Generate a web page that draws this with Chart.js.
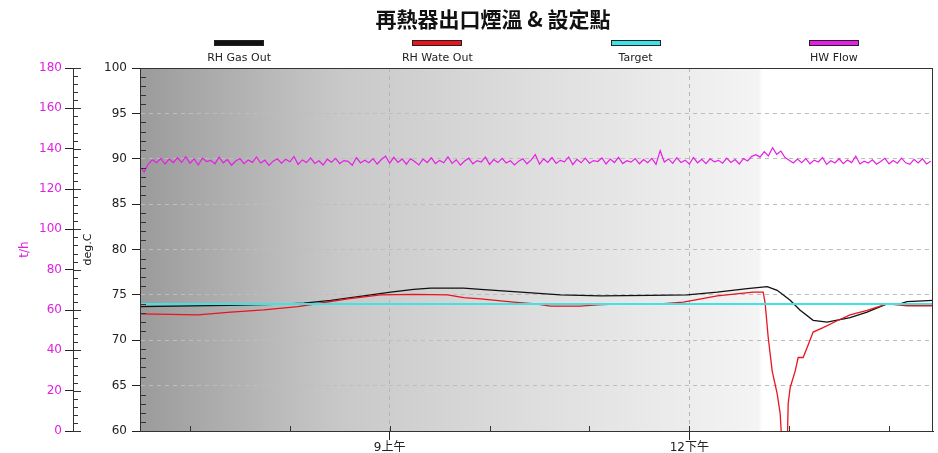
<!DOCTYPE html>
<html>
<head>
<meta charset="utf-8">
<script src="https://cdn.jsdelivr.net/npm/chart.js@4"></script>
<style>
  body { margin: 0; background: #fff; }
  #wrap { position: relative; width: 938px; height: 453px; }
  #title { position: absolute; left: 0; top: 3px; width: 986px; text-align: center; font: bold 21px "Noto Sans CJK TC"; color: #111; }
  #legend { position: absolute; left: 140px; top: 40px; width: 793px; display: flex; }
  .item { flex: 1; text-align: center; }
  .bar { width: 48px; height: 4px; border: 1px solid #222; margin: 0 auto 5px; }
  .lbl { font: 11px "DejaVu Sans"; color: #222; line-height: 13px; }
  canvas { position: absolute; left: 0; top: 0; }
</style>
</head>
<body>
<div id="wrap">
  <canvas id="rh-chart" width="938" height="453"></canvas>
  <div id="title">再熱器出口煙溫 &amp; 設定點</div>
  <div id="legend"></div>
</div>
<script>
// time in hours of the day
var hourTicks = [7, 8, 9, 10, 11, 12, 13, 14];
var labelHours = [9, 12];
var labelTexts = ['9上午', '12下午'];

var gasTimes = [6.5, 7.38, 7.84, 8.14, 8.41, 8.74, 9.01, 9.24, 9.41, 9.74, 9.91, 10.24, 10.71, 11.11, 11.61, 11.98,
  12.28, 12.58, 12.78, 12.88, 13.01, 13.11, 13.24, 13.38, 13.61, 13.78, 13.98, 14.11, 14.18, 14.44];
var gasOut = [73.7, 73.85, 73.95, 74.1, 74.4, 74.9, 75.3, 75.6, 75.75, 75.75, 75.6, 75.35, 75.0, 74.9, 74.95, 75.0,
  75.3, 75.7, 75.9, 75.5, 74.4, 73.3, 72.2, 72.0, 72.5, 73.1, 74.0, 74.0, 74.25, 74.4];

var wateTimes = [6.5, 7.08, 7.41, 7.74, 8.08, 8.28, 8.58, 8.91, 9.24, 9.58, 9.74, 9.91, 10.24, 10.46, 10.61, 10.91,
  11.08, 11.31, 11.71, 11.94, 12.28, 12.64, 12.74, 12.76, 12.79, 12.83, 12.88, 12.91, 12.93, 12.98, 12.99, 13.01,
  13.06, 13.09, 13.14, 13.18, 13.24, 13.34, 13.48, 13.61, 13.78, 13.98, 14.18, 14.44];
var wateOut = [72.9, 72.8, 73.1, 73.35, 73.7, 74.05, 74.55, 75.0, 75.05, 75.0, 74.7, 74.55, 74.2, 74.0, 73.75, 73.75,
  73.9, 74.0, 74.0, 74.2, 74.9, 75.3, 75.3, 74.0, 70.3, 66.6, 64.1, 61.9, 58, 58, 63, 64.8,
  66.6, 68.1, 68.1, 69.2, 70.9, 71.4, 72.15, 72.8, 73.3, 74.0, 73.8, 73.8];

var targetTimes = [6.5, 14.44];
var target = [74, 74];

// HW flow logged every 2.5 minutes from 6:30
var flowStart = 6.5;
var flowStepMin = 2.5;
var hwFlow = [
  131.0, 128.5, 132.5, 134.5, 133.0, 135.2, 132.4, 134.8, 133.1, 135.5,
  133.2, 136.0, 132.8, 134.9, 131.9, 135.3, 133.6, 134.2, 132.5, 135.8,
  133.0, 134.6, 131.8, 133.9, 135.1, 132.6, 134.4, 133.2, 135.9, 132.9,
  134.3, 131.7, 133.8, 135.0, 132.8, 134.7, 133.5, 136.1, 132.2, 134.4,
  133.1, 135.4, 132.7, 134.0, 131.9, 134.8, 133.3, 135.2, 132.6, 134.1,
  133.7, 131.8, 135.6, 132.9, 134.3, 133.0, 135.1, 132.4, 134.6, 136.3,
  132.8, 135.7, 133.2, 134.9, 132.3, 135.0, 133.6, 131.9, 134.8, 133.1,
  135.5, 132.6, 134.2, 133.0, 136.0, 132.7, 134.5, 131.8, 133.9, 135.3,
  132.5, 134.1, 133.4, 135.8, 132.2, 134.6, 133.1, 135.2, 132.9, 134.0,
  131.9, 133.8, 135.0, 132.5, 134.4, 137.0, 132.3, 134.9, 133.2, 135.6,
  132.7, 134.2, 133.5, 135.9, 132.1, 134.7, 133.0, 135.3, 132.8, 134.1,
  133.6, 135.4, 132.4, 134.8, 133.1, 135.7, 132.6, 134.0, 133.3, 135.1,
  132.5, 134.6, 133.0, 135.2, 132.2, 139.0, 133.4, 134.9, 132.7, 135.5,
  133.1, 134.3, 132.4, 135.6, 133.0, 134.7, 132.6, 135.0, 133.5, 134.2,
  132.8, 135.3, 133.2, 134.6, 132.4, 135.1, 133.9, 136.2, 137.0, 135.8,
  138.5, 136.4, 140.5, 137.2, 138.8, 135.6, 134.2, 132.9, 134.8, 133.0,
  135.1, 132.5, 134.3, 133.4, 135.6, 132.2, 134.0, 132.9, 135.0, 132.6,
  134.4, 133.1, 136.3, 132.4, 133.8, 132.9, 134.5, 132.3, 133.6, 135.2,
  132.5, 134.1, 132.8, 135.3, 133.0, 132.2, 134.7, 132.9, 135.0, 132.4, 133.8
];

function pairs(xs, ys) {
  return ys.map(function (v, i) { return { x: xs[i], y: v }; });
}

var flowPoints = hwFlow.map(function (v, i) {
  return { x: flowStart + i * flowStepMin / 60, y: v };
});

var chartBg = {
  id: 'chartBg',
  beforeDraw: function (chart) {
    var a = chart.chartArea, c = chart.ctx;
    var g = c.createLinearGradient(a.left, 0, a.right, 0);
    g.addColorStop(0, '#9b9b9b');
    g.addColorStop(0.25, '#c8c8c8');
    g.addColorStop(0.5, '#dedede');
    g.addColorStop(0.78, '#f4f4f4');
    g.addColorStop(0.785, '#ffffff');
    g.addColorStop(1, '#ffffff');
    c.save();
    c.fillStyle = g;
    c.fillRect(a.left, a.top, a.right - a.left, a.bottom - a.top);
    c.restore();
  },
  afterDraw: function (chart) {
    var a = chart.chartArea, c = chart.ctx;
    var y = chart.scales.y, y1 = chart.scales.y1, x = chart.scales.x;
    c.save();
    c.strokeStyle = '#333';
    c.lineWidth = 1;
    c.strokeRect(a.left + 0.5, a.top + 0.5, a.right - a.left - 1, a.bottom - a.top);
    c.beginPath();
    // minor ticks on t/h axis
    for (var v = 0; v <= 180; v += 4) {
      var py = Math.round(y1.getPixelForValue(v)) + 0.5;
      c.moveTo(y1.right, py);
      c.lineTo(y1.right + (v % 20 === 0 ? 8 : 5), py);
    }
    // minor ticks on deg.C axis
    for (var d = 61; d < 100; d++) {
      if (d % 5 === 0) continue;
      var dy = Math.round(y.getPixelForValue(d)) + 0.5;
      c.moveTo(a.left, dy);
      c.lineTo(a.left + 6, dy);
    }
    // hour ticks inside the plot
    hourTicks.forEach(function (h) {
      var px = Math.round(x.getPixelForValue(h)) + 0.5;
      c.moveTo(px, a.bottom);
      c.lineTo(px, a.bottom - 5);
    });
    c.stroke();
    c.restore();
  }
};

var ctx = document.getElementById('rh-chart');

var rhChart = new Chart(ctx, {
  type: 'line',
  data: {
    datasets: [{
      label: 'RH Gas Out',
      data: pairs(gasTimes, gasOut),
      borderColor: '#111111',
      backgroundColor: '#111111',
      borderWidth: 1.3,
      yAxisID: 'y',
      order: 2
    }, {
      label: 'RH Wate Out',
      data: pairs(wateTimes, wateOut),
      borderColor: '#e8141e',
      backgroundColor: '#e8141e',
      borderWidth: 1.3,
      yAxisID: 'y',
      order: 1
    }, {
      label: 'Target',
      data: pairs(targetTimes, target),
      borderColor: '#3fe3e3',
      backgroundColor: '#3fe3e3',
      borderWidth: 2,
      yAxisID: 'y',
      order: 0
    }, {
      label: 'HW Flow',
      data: flowPoints,
      borderColor: '#e61ee6',
      backgroundColor: '#e61ee6',
      borderWidth: 1.2,
      yAxisID: 'y1',
      order: 3
    }]
  },
  options: {
    responsive: false,
    animation: false,
    layout: { padding: { top: 68, right: 5, left: 0, bottom: 0 } },
    elements: { point: { radius: 0 }, line: { tension: 0 } },
    plugins: { legend: { display: false }, tooltip: { enabled: false } },
    scales: {
      x: {
        type: 'linear',
        min: 6.5,
        max: 14.44,
        afterBuildTicks: function (scale) {
          scale.ticks = hourTicks.map(function (h) { return { value: h }; });
        },
        afterFit: function (scale) { scale.height = 22; },
        ticks: {
          autoSkip: false,
          maxRotation: 0,
          padding: 1,
          color: '#222',
          font: { family: 'DejaVu Sans, "Noto Sans CJK TC"', size: 12 },
          callback: function (value) {
            var i = labelHours.indexOf(value);
            return i >= 0 ? labelTexts[i] : '';
          }
        },
        grid: {
          tickLength: 9,
          tickBorderDash: [],
          color: function (c) {
            return c.tick && labelHours.indexOf(c.tick.value) >= 0 ? '#b5b5b5' : 'rgba(0,0,0,0)';
          },
          tickColor: function (c) {
            return c.tick && labelHours.indexOf(c.tick.value) >= 0 ? '#222' : 'rgba(0,0,0,0)';
          }
        },
        border: { color: '#222', dash: [4, 4] }
      },
      y: {
        position: 'left',
        weight: 0,
        min: 60,
        max: 100,
        afterFit: function (scale) { scale.width = 67; },
        ticks: {
          stepSize: 5,
          padding: 5,
          color: '#222',
          font: { family: 'DejaVu Sans', size: 12 }
        },
        grid: {
          tickLength: 8,
          tickBorderDash: [],
          color: function (c) {
            return c.tick && (c.tick.value === 60 || c.tick.value === 100) ? 'rgba(0,0,0,0)' : '#bdbdbd';
          },
          tickColor: '#222'
        },
        border: { color: '#222', dash: [4, 4] },
        title: {
          display: true,
          text: 'deg.C',
          color: '#111',
          font: { family: 'DejaVu Sans', size: 11 },
          padding: { top: 9, bottom: 0 }
        }
      },
      y1: {
        position: 'left',
        weight: 1,
        min: 0,
        max: 180,
        afterFit: function (scale) { scale.width = 73; },
        ticks: {
          stepSize: 20,
          padding: 3,
          color: '#e020e0',
          font: { family: 'DejaVu Sans', size: 12 }
        },
        grid: {
          drawOnChartArea: false,
          tickLength: 8,
          tickColor: '#222'
        },
        border: { color: '#333' },
        title: {
          display: true,
          text: 't/h',
          color: '#e020e0',
          font: { family: 'DejaVu Sans', size: 12 },
          padding: { top: 18, bottom: 0 }
        }
      }
    }
  },
  plugins: [chartBg]
});

// legend: coloured bar above each name
var legendBox = document.getElementById('legend');
rhChart.data.datasets.forEach(function (ds) {
  var item = document.createElement('div');
  item.className = 'item';
  var bar = document.createElement('div');
  bar.className = 'bar';
  bar.style.background = ds.borderColor;
  var lbl = document.createElement('div');
  lbl.className = 'lbl';
  lbl.textContent = ds.label;
  item.appendChild(bar);
  item.appendChild(lbl);
  legendBox.appendChild(item);
});
</script>
</body>
</html>
